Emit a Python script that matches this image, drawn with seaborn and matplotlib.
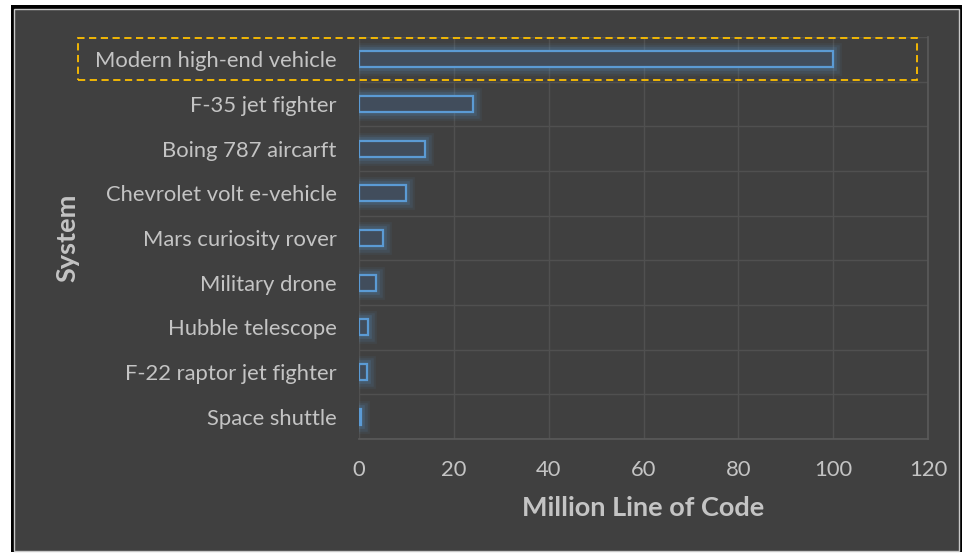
import matplotlib
matplotlib.use("Agg")
import matplotlib.pyplot as plt
import matplotlib.patheffects as pe
from matplotlib.patches import Rectangle
import seaborn as sns
import pandas as pd

systems = ["Modern high-end vehicle", "F-35 jet fighter", "Boing 787 aircarft",
           "Chevrolet volt e-vehicle", "Mars curiosity rover", "Military drone",
           "Hubble telescope", "F-22 raptor jet fighter", "Space shuttle"]
million_loc = [100, 24, 14, 10, 5, 3.5, 2, 1.7, 0.4]
x_ticks = [0, 20, 40, 60, 80, 100, 120]

df = pd.DataFrame({"System": systems, "MLOC": million_loc})

sns.set_theme(style="dark")
plt.rcParams["font.family"] = ["Lato", "DejaVu Sans"]

BG = "#404040"
TXT = "#C4C4C4"
GRID = "#505050"
BLUE = "#5B9BD5"

W, H = 964, 555
fig = plt.figure(figsize=(W / 100, H / 100), dpi=100, facecolor="white")

def fx(px): return px / W
def fy(py): return 1 - py / H

fig.patches.append(Rectangle((fx(11), fy(552)), fx(951), 547 / H, transform=fig.transFigure,
                             facecolor="#000000", edgecolor="none", zorder=-10))
fig.patches.append(Rectangle((fx(14), fy(551)), fx(945), 542 / H, transform=fig.transFigure,
                             facecolor=BG, edgecolor="#C8C8C8", linewidth=1.0, zorder=-9))

ax = fig.add_axes([fx(359), fy(439), fx(928) - fx(359), (439 - 37) / H])
ax.set_facecolor(BG)

sns.barplot(data=df, x="MLOC", y="System", orient="h", ax=ax, width=0.36,
            color="#3C4D60", edgecolor=BLUE, linewidth=1.6, zorder=3)

for p in ax.patches:
    p.set_path_effects([
        pe.Stroke(linewidth=12, foreground=BLUE, alpha=0.07),
        pe.Stroke(linewidth=9, foreground=BLUE, alpha=0.1),
        pe.Stroke(linewidth=5.5, foreground=BLUE, alpha=0.16),
        pe.Normal(),
    ])

ax.set_xlim(0, 120)
ax.set_ylim(len(systems) - 0.5, -0.5)
ax.set_xticks(x_ticks)
ax.set_xticklabels([str(t) for t in x_ticks])
for t in x_ticks:
    ax.axvline(t, color=GRID, linewidth=1.0, zorder=0)
for i in range(len(systems) + 1):
    ax.axhline(i - 0.5, color=GRID, linewidth=1.0, zorder=0)

for s in ["left", "top"]:
    ax.spines[s].set_visible(False)
for s in ["right", "bottom"]:
    ax.spines[s].set_visible(True)
    ax.spines[s].set_color("#5A5A5A")
    ax.spines[s].set_linewidth(1.2)

ax.tick_params(axis="y", length=0, pad=16, labelsize=15.8, labelcolor=TXT)
ax.tick_params(axis="x", length=0, pad=15, labelsize=15.8, labelcolor=TXT)

ax.set_xlabel("Million Line of Code", fontsize=19.5, fontweight="bold", color=TXT, labelpad=12)
ax.set_ylabel("")
fig.text(fx(67), fy(238), "System", rotation=90, fontsize=19.5, fontweight="bold",
         color=TXT, ha="center", va="center")

fig.patches.append(Rectangle((fx(78), fy(80)), fx(917) - fx(78), 42 / H, transform=fig.transFigure,
                             facecolor="none", edgecolor="#FFC000", linewidth=1.3,
                             linestyle=(0, (4, 2.5)), zorder=10))

fig.savefig("out.png", dpi=100, facecolor="white")
